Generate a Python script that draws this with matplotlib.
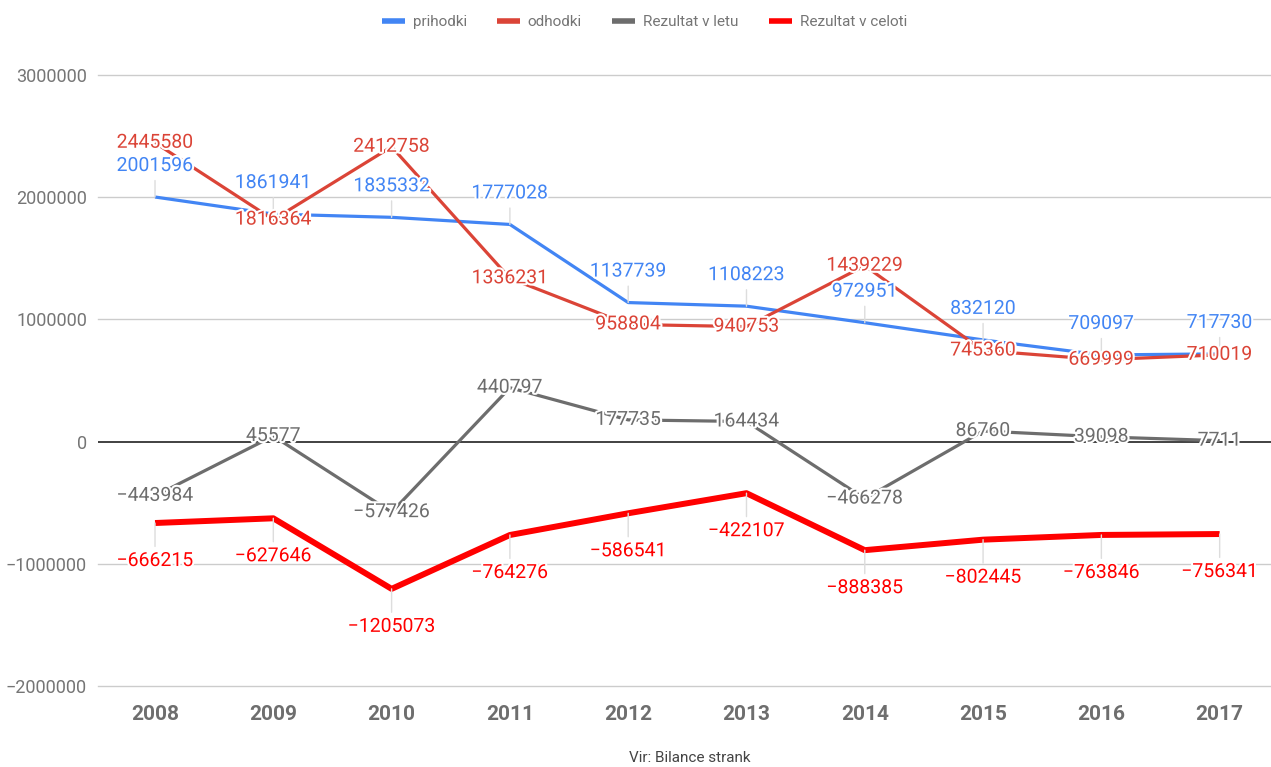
import matplotlib
matplotlib.use('Agg')
import matplotlib.pyplot as plt
import matplotlib.patheffects as pe
import numpy as np

plt.rcParams['font.family'] = ['Roboto', 'DejaVu Sans']

years = ['2008', '2009', '2010', '2011', '2012', '2013', '2014', '2015', '2016', '2017']
prihodki = [2001596, 1861941, 1835332, 1777028, 1137739, 1108223, 972951, 832120, 709097, 717730]
odhodki = [2445580, 1816364, 2412758, 1336231, 958804, 940753, 1439229, 745360, 669999, 710019]
rez_leto = [-443984, 45577, -577426, 440797, 177735, 164434, -466278, 86760, 39098, 7711]
rez_celota = [-666215, -627646, -1205073, -764276, -586541, -422107, -888385, -802445, -763846, -756341]
yticks = [-2000000, -1000000, 0, 1000000, 2000000, 3000000]

# name, values, colour, line width, label offset in pixels (0 = on the point)
series = [
    ('prihodki', prihodki, '#4285f4', 2.3, 31),
    ('odhodki', odhodki, '#db4437', 2.3, 0),
    ('Rezultat v letu', rez_leto, '#6d6d6d', 2.3, 0),
    ('Rezultat v celoti', rez_celota, '#ff0000', 4.3, -38),
]

fig = plt.figure(figsize=(12.71, 7.67), dpi=100)
ax = fig.add_axes([98/1271, 1-686/767, 1-98/1271, (686-75)/767])

x = np.arange(len(years))
for name, vals, col, lw, off in series:
    ax.plot(x, vals, color=col, lw=lw, label=name, zorder=3, solid_capstyle='butt')

halo = [pe.withStroke(linewidth=3, foreground='white')]
for name, vals, col, lw, off in series:
    for xi, v in zip(x, vals):
        txt = f'{v}'.replace('-', '\u2212')
        if off == 0:
            ax.annotate(txt, (xi, v), ha='center', va='center', fontsize=14,
                        color=col, zorder=5, path_effects=halo)
        else:
            ax.annotate(txt, (xi, v), xytext=(0, off), textcoords='offset pixels',
                        ha='center', va='center', fontsize=14, color=col, zorder=5,
                        path_effects=halo,
                        arrowprops=dict(arrowstyle='-', color='#dddddd', lw=1,
                                        shrinkA=2, shrinkB=0))

ax.axhline(0, color='#333333', lw=1.3, zorder=2)
ax.set_xlim(-0.482, 9.434)
ax.set_ylim(-2000000, 3000000)
ax.set_yticks(yticks)
ax.set_yticklabels([f'{t}'.replace('-', '\u2212') for t in yticks])
ax.set_xticks(x)
ax.set_xticklabels(years, fontsize=15, fontweight='bold', color='#6e6e6e')
ax.tick_params(axis='y', length=0, pad=8, labelsize=13, labelcolor='#757575')
ax.tick_params(axis='x', length=0, pad=14)
for t in yticks:
    if t != 0:
        ax.axhline(t, color='#cccccc', lw=1, zorder=0, clip_on=False)
for s in ax.spines.values():
    s.set_visible(False)

fig.legend(loc='center', bbox_to_anchor=(0.507, 0.971), ncol=4, frameon=False,
           fontsize=11, labelcolor='#757575', handlelength=1.5, handletextpad=0.5,
           columnspacing=2.0)
for h in fig.legends[0].legend_handles:
    h.set_linewidth(4)

fig.text(0.543, 0.012, 'Vir: Bilance strank', ha='center', va='center', fontsize=11, color='#444444')

fig.savefig('out.png', dpi=100)
